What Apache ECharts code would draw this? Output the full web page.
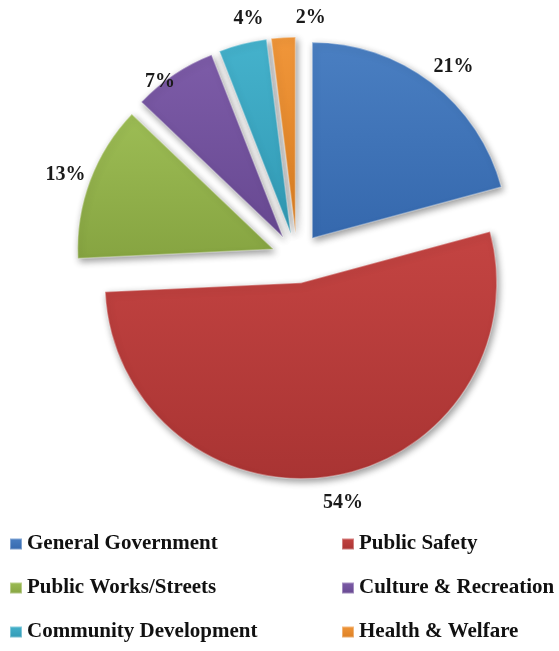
<!DOCTYPE html>
<html>
<head>
<meta charset="utf-8">
<script src="https://cdn.jsdelivr.net/npm/echarts@6/dist/echarts.min.js"></script>
<style>
  html, body { margin: 0; padding: 0; background: #ffffff; }
  #chart { width: 559px; height: 651px; }
</style>
</head>
<body>
<div id="chart"></div>
<script>
// Expenditure shares by function (percent)
const categories = [
  'General Government',
  'Public Safety',
  'Public Works/Streets',
  'Culture & Recreation',
  'Community Development',
  'Health & Welfare'
];
const shares = [21, 54, 13, 7, 4, 2];

// Slice colours: [light edge, body]
const sliceColors = [
  ['#4a7fc2', '#3568ad'],
  ['#c44442', '#a93433'],
  ['#9dbd55', '#86a441'],
  ['#7d5ca8', '#674891'],
  ['#45b2cc', '#3199b4'],
  ['#f0963a', '#dc7f22']
];

// Small per-label nudges (px) so the percentages sit where best-fit places them
const labelNudge = [[7, 4], [8, 2], [-1, 3], [0, 28], [12, -1], [29, 5]];

function sliceFill(pair) {
  return new echarts.graphic.LinearGradient(0, 0, 0, 1, [
    { offset: 0, color: pair[0] },
    { offset: 1, color: pair[1] }
  ]);
}

const pieData = categories.map((name, i) => ({
  name: name,
  value: shares[i],
  selected: true,
  itemStyle: { color: sliceFill(sliceColors[i]) }
}));

// Invisible ring carrying the percentage labels just outside each slice
const labelRingData = categories.map((name, i) => ({
  name: name,
  value: shares[i],
  selected: true
}));

const legendText = {
  fontFamily: 'Liberation Serif',
  fontWeight: 'bold',
  fontSize: 21,
  color: '#111111',
  lineHeight: 22
};

const PIE_CENTER = [297, 258];
const PIE_RADIUS = 196;
const EXPLODE = 25;

const chart = echarts.init(document.getElementById('chart'), null, { renderer: 'canvas' });

function legendColumn(left, names) {
  return {
    orient: 'vertical',
    left: left,
    top: 528,
    itemWidth: 12,
    itemHeight: 11,
    itemGap: 22,
    icon: 'rect',
    selectedMode: false,
    data: names,
    textStyle: legendText
  };
}

chart.setOption({
  backgroundColor: '#ffffff',
  animation: false,
  color: sliceColors.map(p => p[1]),
  legend: [
    legendColumn(4, [categories[0], categories[2], categories[4]]),
    legendColumn(336, [categories[1], categories[3], categories[5]])
  ],
  series: [
    {
      type: 'pie',
      center: PIE_CENTER,
      radius: PIE_RADIUS,
      startAngle: 90,
      clockwise: true,
      selectedMode: 'multiple',
      selectedOffset: EXPLODE,
      silent: true,
      itemStyle: {
        borderColor: 'rgba(255,255,255,0.35)',
        borderWidth: 1.5,
        shadowBlur: 7,
        shadowOffsetX: 2,
        shadowOffsetY: 3,
        shadowColor: 'rgba(0,0,0,0.4)'
      },
      label: { show: false },
      labelLine: { show: false },
      emphasis: { disabled: true },
      data: pieData
    },
    {
      type: 'pie',
      center: PIE_CENTER,
      radius: [PIE_RADIUS + 4, PIE_RADIUS + 40],
      startAngle: 90,
      clockwise: true,
      selectedMode: 'multiple',
      selectedOffset: EXPLODE,
      silent: true,
      z: 3,
      legendHoverLink: false,
      itemStyle: { color: 'rgba(0,0,0,0)', borderWidth: 0 },
      label: {
        show: true,
        position: 'inside',
        formatter: '{c}%',
        fontFamily: 'Liberation Serif',
        fontWeight: 'bold',
        fontSize: 20,
        color: '#1a1a1a'
      },
      labelLayout: function (params) {
        const n = labelNudge[params.dataIndex] || [0, 0];
        return { dx: n[0], dy: n[1] };
      },
      labelLine: { show: false },
      emphasis: { disabled: true },
      data: labelRingData
    }
  ]
});
</script>
</body>
</html>
